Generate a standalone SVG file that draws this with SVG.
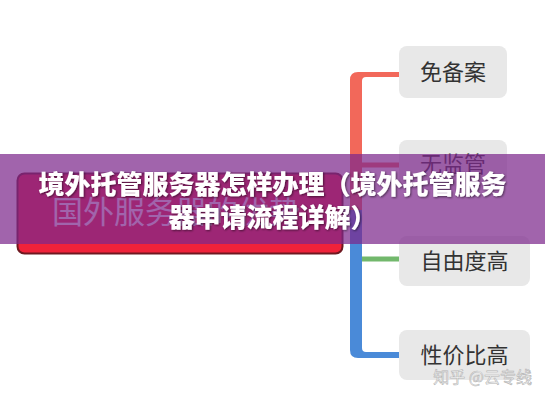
<svg xmlns="http://www.w3.org/2000/svg" width="545" height="400" viewBox="0 0 545 400">
  <defs>
    <style>
      .node { fill: #e8e8e8; }
      .ntext { font-family: "Noto Sans CJK SC", "Noto Sans", sans-serif; font-size: 22px; fill: #333333; text-anchor: middle; }
      .root-box { fill: #f0223a; stroke: #6e1820; stroke-width: 2; }
      .root-text { font-family: "Noto Sans CJK SC", "Noto Sans", sans-serif; font-size: 31px; fill: #ffffff; text-anchor: middle; }
      .banner { fill: #7d288c; fill-opacity: 0.72; }
      .btext { font-family: "Noto Sans CJK SC", "Noto Sans", sans-serif; font-size: 26px; font-weight: 900; fill: #ffffff; text-anchor: middle; }
      .wm { font-family: "Noto Sans CJK SC", "Noto Sans", sans-serif; font-size: 16px; fill: #f6f6f6; stroke: #b5b5b5; stroke-width: 0.6; text-anchor: end; }
    </style>
    <filter id="shadow" x="-5%" y="-30%" width="110%" height="160%">
      <feDropShadow dx="1" dy="1" stdDeviation="1" flood-color="#000000" flood-opacity="0.55"/>
    </filter>
  </defs>

  <rect width="545" height="400" fill="#ffffff"/>

  <g id="connectors">
    <path d="M 350 212 V 80 Q 350 72 358 72 H 400 V 77 H 366 Q 362 77 362 81 V 212 Z" fill="#f2685a"/>
    <rect x="362" y="162.5" width="38" height="5" fill="#f2685a"/>
    <path d="M 350 210 V 350 Q 350 358 358 358 H 400 V 352 H 366 Q 362 352 362 348 V 210 Z" fill="#4a8ad8"/>
    <rect x="362" y="256.5" width="38" height="5" fill="#72b86c"/>
  </g>

  <g id="root">
    <rect class="root-box" x="17.5" y="173.5" width="325" height="80" rx="7"/>
    <text class="root-text" x="176" y="223">国外服务器的优势</text>
  </g>

  <g id="node-mianbeian">
    <rect class="node" x="399" y="46" width="108" height="52" rx="8"/>
    <text class="ntext" x="453" y="80">免备案</text>
  </g>

  <g id="node-wujianguan">
    <rect class="node" x="399" y="140" width="108" height="50" rx="8"/>
    <text class="ntext" x="453" y="172">无监管</text>
  </g>

  <g id="node-ziyoudu">
    <rect class="node" x="399" y="236" width="131" height="50" rx="8"/>
    <text class="ntext" x="464.5" y="269">自由度高</text>
  </g>

  <g id="node-xingjiabi">
    <rect class="node" x="399" y="330" width="131" height="50" rx="8"/>
    <text class="ntext" x="464.5" y="363">性价比高</text>
  </g>

  <g id="banner">
    <rect class="banner" x="0" y="154" width="545" height="90"/>
    <text class="btext" x="272.5" y="194" filter="url(#shadow)">境外托管服务器怎样办理（境外托管服务</text>
    <text class="btext" x="272.5" y="227" filter="url(#shadow)">器申请流程详解）</text>
  </g>

  <text class="wm" x="532" y="383">知乎 @云专线</text>
</svg>
